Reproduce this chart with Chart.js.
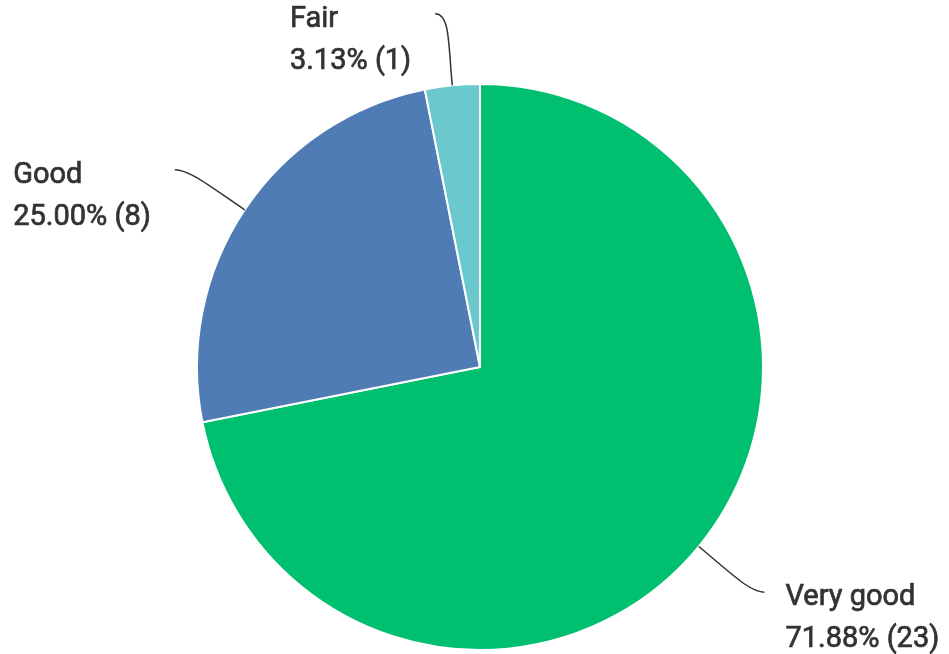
<!DOCTYPE html>
<html>
<head>
<meta charset="utf-8">
<script src="https://cdn.jsdelivr.net/npm/chart.js@4.4.1/dist/chart.umd.min.js"></script>
<style>
    html, body { margin: 0; padding: 0; background: #fff; }
    #wrap { width: 949px; height: 654px; position: relative; }
</style>
</head>
<body>
<div id="wrap"><canvas id="rating_chart"></canvas></div>
<script>
var categories = ['Very good', 'Good', 'Fair']
var responses = [23, 8, 1]
var sliceColors = ['#00BF6F', '#507CB6', '#6BC8CD']

// labels with curved leader lines, placed off each slice's mid angle
var leaderLabels = {
    id: 'leaderLabels',
    afterDraw(chart) {
        var ctx = chart.ctx
        var meta = chart.getDatasetMeta(0)
        var total = responses.reduce((a, b) => a + b, 0)
        ctx.save()
        meta.data.forEach((arc, i) => {
            var mid = (arc.startAngle + arc.endAngle) / 2
            var rx = Math.cos(mid)
            var ry = Math.sin(mid)
            var side = rx >= 0 ? 1 : -1
            var sx = arc.x + rx * arc.outerRadius
            var sy = arc.y + ry * arc.outerRadius
            var ex = sx + rx * 72 + side * 10
            var ey = sy + ry * 72

            ctx.beginPath()
            ctx.moveTo(sx, sy)
            ctx.bezierCurveTo(sx + rx * 40, sy + ry * 40, ex - side * 15, ey, ex, ey)
            ctx.strokeStyle = '#333'
            ctx.lineWidth = 1.5
            ctx.stroke()

            var lines = [categories[i], (responses[i] / total * 100).toFixed(2) + '% (' + responses[i] + ')']
            ctx.font = '29px Roboto'
            ctx.fillStyle = '#333'
            ctx.strokeStyle = '#333'
            ctx.lineWidth = 0.7
            ctx.textBaseline = 'middle'
            ctx.textAlign = 'left'
            var w = Math.max(...lines.map(t => ctx.measureText(t).width))
            var left = side > 0 ? ex + 21 : ex - 24 - w
            lines.forEach((t, j) => {
                ctx.fillText(t, left, ey + 6 + j * 42)
                ctx.strokeText(t, left, ey + 6 + j * 42)
            })
        })
        ctx.restore()
    }
}

function drawGraph() {
    var ctx = document.getElementById('rating_chart').getContext('2d');
    var myChart = new Chart(ctx, {
        type: 'pie',
        data: {
            labels: categories,
            datasets: [{
                label: 'Responses',
                data: responses,
                backgroundColor: sliceColors,
                borderColor: '#ffffff',
                borderWidth: 2
            }]
        },
        options: {
            responsive: true,
            maintainAspectRatio: false,
            animation: false,
            layout: {
                padding: { top: 83, bottom: 3, left: 196, right: 185 }
            },
            plugins: {
                legend: { display: false },
                tooltip: { enabled: false }
            }
        },
        plugins: [leaderLabels]
    });
}

drawGraph()
</script>
</body>
</html>
